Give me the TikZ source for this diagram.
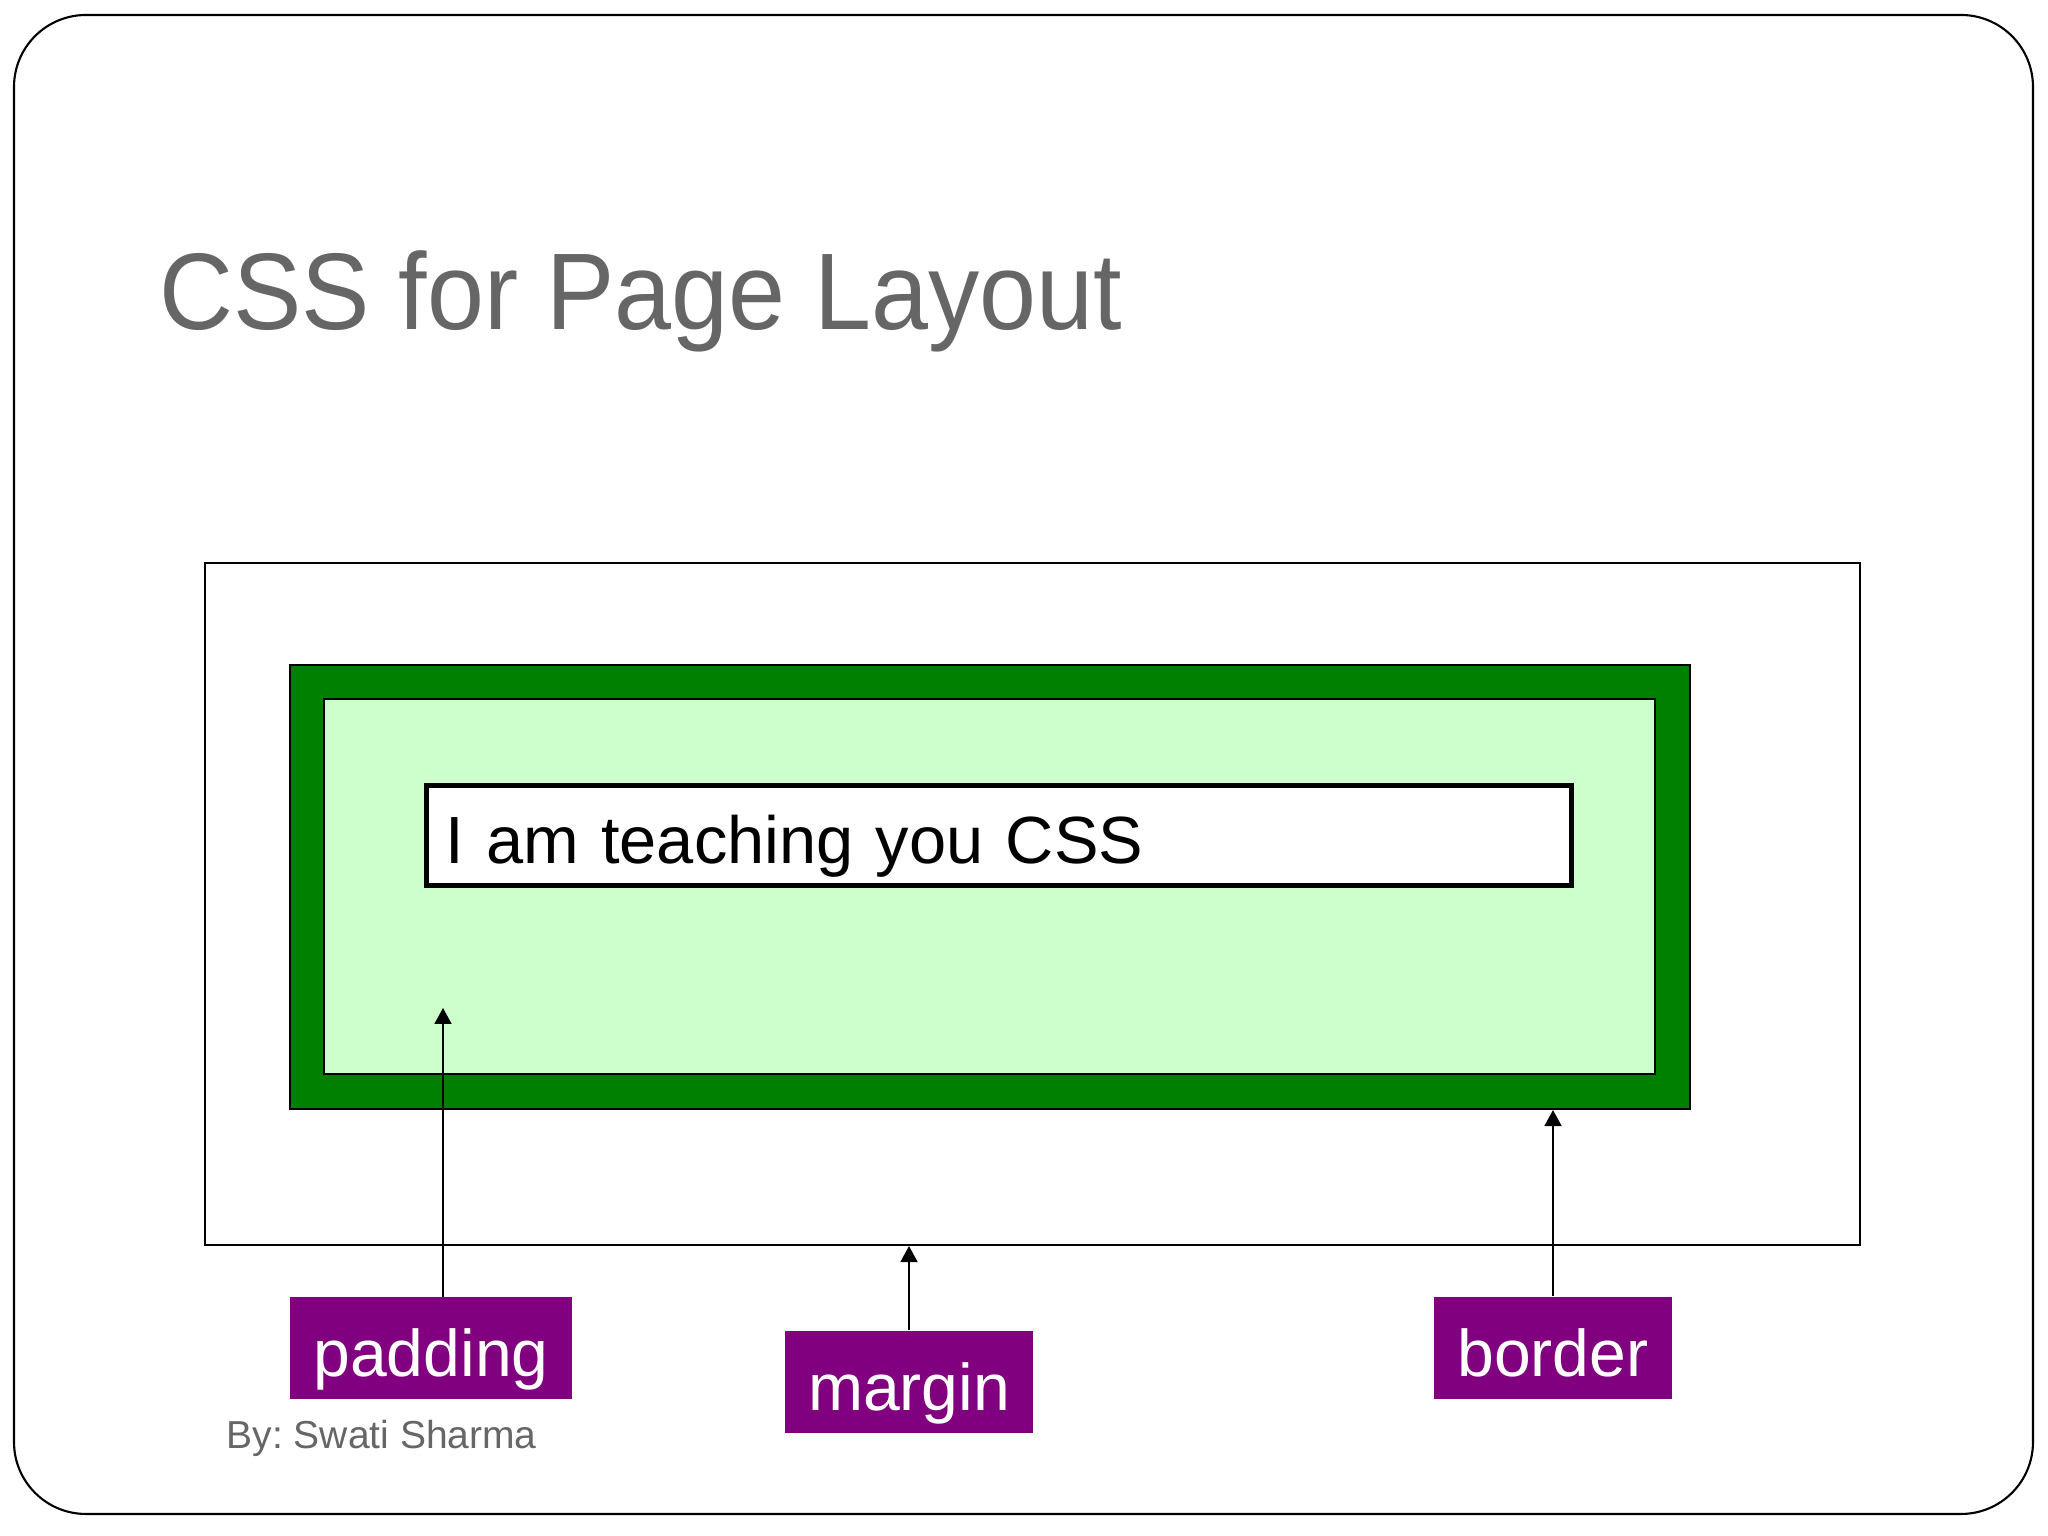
\documentclass[tikz,border=0pt]{standalone}
\usepackage{fontspec}
\setmainfont{Liberation Sans}
\newfontfamily\titlefont[FakeStretch=0.94]{Liberation Sans}
\usetikzlibrary{arrows.meta,positioning}
\definecolor{titlegray}{HTML}{666666}
\definecolor{borderfill}{HTML}{008000}
\definecolor{padfill}{HTML}{CCFFCC}
\definecolor{labelfill}{HTML}{800080}
\frenchspacing

\begin{document}
\begin{tikzpicture}[
  box/.style={draw, line width=0.6pt, inner sep=0pt},
  lbl/.style={fill=labelfill, text=white, inner xsep=0.235cm, inner ysep=0pt,
              minimum height=1.02cm, text height=0.57cm, text depth=0pt,
              font=\fontsize{18.8}{22}\selectfont},
  arr/.style={-{Triangle[width=1.7mm, length=1.6mm]}, line width=0.5pt},
]
\useasboundingbox (0,0) rectangle (20.48,15.36);
\draw[line width=0.6pt, rounded corners=0.72cm] (0.14,0.22) rectangle (20.33,15.21);

\node[anchor=base west, inner sep=0pt, text=titlegray,
      font=\titlefont\fontsize{31}{36}\selectfont] (title) at (1.59,12.06) {CSS for Page Layout};

\node[box, minimum width=16.55cm, minimum height=6.82cm] (mbox) at (10.325,6.32) {};
\node[box, fill=borderfill, minimum width=14.0cm, minimum height=4.44cm] (bdr) at (9.90,6.49) {};
\node[box, fill=padfill, minimum width=13.31cm, minimum height=3.75cm] (pad) at (9.895,6.495) {};
\node[draw, fill=white, line width=1.5pt, minimum width=11.45cm, minimum height=1.0cm,
      text width=11.07cm, align=left, inner xsep=0.19cm, inner ysep=0pt,
      text height=0.57cm, text depth=0pt, font=\fontsize{19}{23}\selectfont]
      (txt) at (9.99,7.005) {I am teaching you CSS};

\node[lbl] (padding) at (4.31,1.875) {padding};
\node[lbl] (margin) at (9.09,1.54) {margin};
\node[lbl] (border) at (15.53,1.88) {border};

\coordinate (padtip) at (4.43,5.28);
\draw[arr] (padding.north -| padtip) -- (padtip);
\draw[arr] (margin.north) -- (margin.north |- mbox.south);
\draw[arr] (border.north) -- (border.north |- bdr.south);

\node[anchor=base west, inner sep=0pt, text=titlegray,
      font=\fontsize{11.1}{13}\selectfont] (author) at (2.26,0.87) {By: Swati Sharma};

\end{tikzpicture}
\end{document}
